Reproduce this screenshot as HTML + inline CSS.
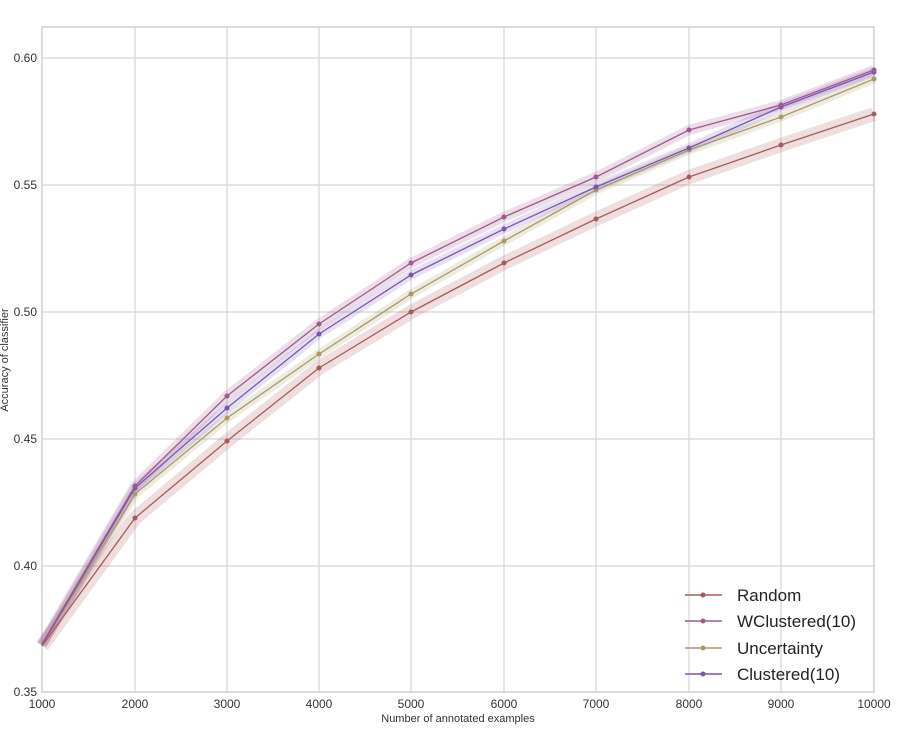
<!DOCTYPE html>
<html><head><meta charset="utf-8"><style>body{margin:0;background:#fff}svg{display:block}text{font-family:"Liberation Sans",sans-serif}</style></head><body>
<svg width="916" height="746" viewBox="0 0 916 746" xmlns="http://www.w3.org/2000/svg">
<g stroke="#d5d5d5" stroke-width="1.2">
<line x1="42" y1="58" x2="874" y2="58"/><line x1="42" y1="185" x2="874" y2="185"/><line x1="42" y1="312" x2="874" y2="312"/><line x1="42" y1="439" x2="874" y2="439"/><line x1="42" y1="566" x2="874" y2="566"/>
<line x1="135" y1="27" x2="135" y2="692"/><line x1="227" y1="27" x2="227" y2="692"/><line x1="319" y1="27" x2="319" y2="692"/><line x1="411" y1="27" x2="411" y2="692"/><line x1="504" y1="27" x2="504" y2="692"/><line x1="596" y1="27" x2="596" y2="692"/><line x1="689" y1="27" x2="689" y2="692"/><line x1="781" y1="27" x2="781" y2="692"/>
</g>
<rect x="42" y="27" width="832" height="665" fill="none" stroke="#d0d0d0" stroke-width="1.5"/>
<g font-size="12" fill="#333" text-anchor="end">
<text x="37" y="62">0.60</text><text x="37" y="189">0.55</text><text x="37" y="316">0.50</text><text x="37" y="443">0.45</text><text x="37" y="570">0.40</text><text x="37" y="696">0.35</text>
</g>
<g font-size="12" fill="#333" text-anchor="middle">
<text x="42" y="708">1000</text><text x="135" y="708">2000</text><text x="227" y="708">3000</text><text x="319" y="708">4000</text><text x="411" y="708">5000</text><text x="504" y="708">6000</text><text x="596" y="708">7000</text><text x="689" y="708">8000</text><text x="781" y="708">9000</text><text x="874" y="708">10000</text>
<text x="458" y="722" font-size="11">Number of annotated examples</text>
<text transform="translate(8,360) rotate(-90)" font-size="11">Accuracy of classifier</text>
</g>
<!-- bands -->
<polyline fill="none" stroke="#a85a5a" stroke-opacity="0.2" stroke-width="14" stroke-linejoin="round" points="42,646 135,518 227,441 319,368 411,312 504,263 596,219 689,177 781,145 874,114"/>
<polyline fill="none" stroke="#a89a62" stroke-opacity="0.2" stroke-width="9" stroke-linejoin="round" points="42,645 135,494 227,418 319,354 411,294 504,241 596,190 689,150 781,117 874,79"/>
<polyline fill="none" stroke="#7a55b0" stroke-opacity="0.18" stroke-width="9" stroke-linejoin="round" points="42,645 135,488 227,408 319,334 411,275 504,229 596,187 689,148 781,107 874,72"/>
<polyline fill="none" stroke="#a0588f" stroke-opacity="0.2" stroke-width="10" stroke-linejoin="round" points="42,644 135,486 227,396 319,324 411,263 504,217 596,177 689,130 781,105 874,70"/>
<g stroke-width="1.3" fill="none">
<polyline stroke="#a85a5a" points="42,646 135,518 227,441 319,368 411,312 504,263 596,219 689,177 781,145 874,114"/>
<polyline stroke="#a89a62" points="42,645 135,494 227,418 319,354 411,294 504,241 596,190 689,150 781,117 874,79"/>
<polyline stroke="#7a55b0" points="42,645 135,488 227,408 319,334 411,275 504,229 596,187 689,148 781,107 874,72"/>
<polyline stroke="#a0588f" points="42,644 135,486 227,396 319,324 411,263 504,217 596,177 689,130 781,105 874,70"/>
</g>
<g fill="#a85a5a"><circle cx="135" cy="518" r="2.5"/><circle cx="227" cy="441" r="2.5"/><circle cx="319" cy="368" r="2.5"/><circle cx="411" cy="312" r="2.5"/><circle cx="504" cy="263" r="2.5"/><circle cx="596" cy="219" r="2.5"/><circle cx="689" cy="177" r="2.5"/><circle cx="781" cy="145" r="2.5"/><circle cx="874" cy="114" r="2.5"/></g>
<g fill="#a89a62"><circle cx="135" cy="494" r="2.5"/><circle cx="227" cy="418" r="2.5"/><circle cx="319" cy="354" r="2.5"/><circle cx="411" cy="294" r="2.5"/><circle cx="504" cy="241" r="2.5"/><circle cx="596" cy="190" r="2.5"/><circle cx="689" cy="150" r="2.5"/><circle cx="781" cy="117" r="2.5"/><circle cx="874" cy="79" r="2.5"/></g>
<g fill="#7a55b0"><circle cx="135" cy="488" r="2.5"/><circle cx="227" cy="408" r="2.5"/><circle cx="319" cy="334" r="2.5"/><circle cx="411" cy="275" r="2.5"/><circle cx="504" cy="229" r="2.5"/><circle cx="596" cy="187" r="2.5"/><circle cx="689" cy="148" r="2.5"/><circle cx="781" cy="107" r="2.5"/><circle cx="874" cy="72" r="2.5"/></g>
<g fill="#a0588f"><circle cx="135" cy="486" r="2.5"/><circle cx="227" cy="396" r="2.5"/><circle cx="319" cy="324" r="2.5"/><circle cx="411" cy="263" r="2.5"/><circle cx="504" cy="217" r="2.5"/><circle cx="596" cy="177" r="2.5"/><circle cx="689" cy="130" r="2.5"/><circle cx="781" cy="105" r="2.5"/><circle cx="874" cy="70" r="2.5"/></g>
<g stroke-width="1.5">
<line x1="685" y1="595" x2="722" y2="595" stroke="#a85a5a"/><circle cx="703" cy="595" r="2.5" fill="#a85a5a"/>
<line x1="685" y1="621" x2="722" y2="621" stroke="#a0588f"/><circle cx="703" cy="621" r="2.5" fill="#a0588f"/>
<line x1="685" y1="648" x2="722" y2="648" stroke="#a89a62"/><circle cx="703" cy="648" r="2.5" fill="#a89a62"/>
<line x1="685" y1="674" x2="722" y2="674" stroke="#7a55b0"/><circle cx="703" cy="674" r="2.5" fill="#7a55b0"/>
</g>
<g font-size="17" fill="#222">
<text x="737" y="601">Random</text><text x="737" y="627">WClustered(10)</text><text x="737" y="654">Uncertainty</text><text x="737" y="680">Clustered(10)</text>
</g>
</svg>
</body></html>
